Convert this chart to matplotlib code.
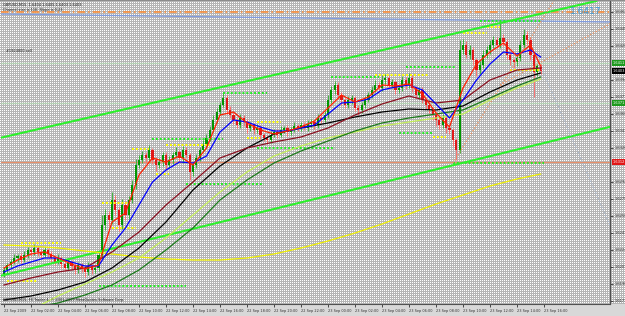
import numpy as np
import matplotlib
matplotlib.use("Agg")
import matplotlib.pyplot as plt
import matplotlib.transforms as mtransforms
from matplotlib import font_manager

# ---------------- data (GBPUSD, M15) ----------------
first_open = 1.6200
close = [
    1.6204, 1.6209, 1.6212, 1.6216,
    1.6218, 1.6214, 1.6219, 1.6224, 1.6222,
    1.6226, 1.6222, 1.6219, 1.6224, 1.6220, 1.6216,
    1.6212, 1.6216, 1.6210, 1.6206, 1.6212, 1.6208,
    1.6204, 1.6209, 1.6206, 1.6202, 1.6208, 1.6204, 1.6206,
    1.6219,
    1.6249,
    1.6259, 1.6254, 1.6274, 1.6264, 1.6249, 1.6269, 1.6259,
    1.6274, 1.6289, 1.6309, 1.6314,
    1.6319, 1.6316, 1.6324, 1.6314, 1.6309, 1.6312, 1.6319,
    1.6309, 1.6314, 1.6319, 1.6322, 1.6316, 1.6324, 1.6319,
    1.6302, 1.6309, 1.6316, 1.6324, 1.6329, 1.6336,
    1.6344, 1.6354, 1.6362, 1.6369, 1.6376, 1.6364,
    1.6359, 1.6354, 1.6349, 1.6356, 1.6352, 1.6346,
    1.6349, 1.6344, 1.6346, 1.6339, 1.6336, 1.6334, 1.6339, 1.6342,
    1.6339, 1.6344, 1.6346, 1.6342, 1.6344, 1.6348, 1.6346, 1.6349, 1.6346, 1.6350,
    1.6352, 1.6349, 1.6356, 1.6354, 1.6359,
    1.6374, 1.6384, 1.6389,
    1.6379, 1.6374, 1.6369, 1.6374, 1.6376, 1.6366, 1.6364,
    1.6369, 1.6374, 1.6379, 1.6384, 1.6389,
    1.6386, 1.6394, 1.6396, 1.6389, 1.6392, 1.6384, 1.6386,
    1.6394, 1.6389, 1.6396, 1.6386, 1.6379, 1.6384, 1.6374,
    1.6369, 1.6364, 1.6359, 1.6354,
    1.6349, 1.6356, 1.6346, 1.6344, 1.6334, 1.6324,
    1.6424,
    1.6429, 1.6419, 1.6424, 1.6414, 1.6404, 1.6409, 1.6419,
    1.6424, 1.6429, 1.6434, 1.6429, 1.6436, 1.6432,
    1.6419, 1.6414, 1.6412, 1.6416, 1.6429,
    1.6439, 1.6434, 1.6419,
    1.6402, 1.6408, 1.6403,
]
upper_wick_pips = [
    3, 2, 3, 4, 2, 3, 4, 3, 2, 4, 2, 3, 3, 2, 3, 2, 4, 2, 3, 4, 2,
    2, 3, 2, 3, 4, 2, 3, 4, 10, 6, 4, 8, 5, 3, 6, 4, 4, 5, 6, 5,
    4, 3, 5, 2, 3, 4, 3, 3, 4, 3, 5, 2, 4, 3, 2, 3, 4, 3, 5, 4,
    4, 5, 4, 3, 6, 3, 4, 3, 2, 4, 3, 3, 3, 2, 4, 3, 2, 3, 4, 3,
    3, 4, 2, 3, 3, 4, 2, 3, 3, 4, 3, 2, 4, 3, 4, 5, 4, 4,
    3, 3, 2, 4, 3, 2, 3, 3, 4, 3, 4, 5, 3, 5, 4, 3, 3, 2, 3,
    4, 3, 5, 3, 2, 3, 3, 2, 3, 2, 3, 3, 4, 2, 3, 2, 2, 10,
    6, 4, 5, 3, 2, 4, 5, 4, 5, 4, 3, 18, 4, 3, 3, 2, 4, 5, 6, 4, 3, 3, 2, 2,
]
lower_wick_pips = [
    3, 4, 3, 2, 4, 3, 2, 3, 4, 3, 4, 3, 2, 3, 4, 3, 2, 4, 3, 2, 4,
    4, 3, 4, 5, 3, 4, 3, 3, 4, 5, 6, 4, 5, 6, 4, 5, 4, 3, 4, 3,
    3, 5, 3, 4, 6, 3, 4, 5, 3, 4, 3, 4, 5, 3, 8, 4, 3, 3, 2, 3,
    3, 2, 3, 3, 2, 4, 3, 4, 3, 3, 4, 5, 3, 4, 3, 4, 3, 4, 3, 2,
    3, 2, 3, 4, 3, 2, 3, 3, 2, 3, 3, 4, 3, 3, 2, 3, 3, 4,
    4, 5, 3, 3, 4, 3, 5, 3, 3, 2, 3, 2, 3, 3, 4, 3, 3, 4, 3,
    3, 4, 3, 4, 3, 4, 3, 4, 3, 5, 6, 4, 3, 5, 4, 6, 10, 3,
    4, 3, 4, 5, 6, 4, 3, 3, 4, 3, 3, 3, 4, 4, 5, 6, 4, 3, 3, 4, 5, 25, 4, 3,
]

# moving averages (sampled at bar indices)
fast_idx = list(range(0, 160, 4)) + [159]
ma_red = [1.6206, 1.6214, 1.6220, 1.6222, 1.6216, 1.6210, 1.6205, 1.6209, 1.6252, 1.6261,
          1.6299, 1.6316, 1.6312, 1.6318, 1.6309, 1.6326, 1.6359, 1.6362, 1.6351, 1.6344,
          1.6340, 1.6343, 1.6347, 1.6353, 1.6366, 1.6379, 1.6372, 1.6377, 1.6389, 1.6388,
          1.6390, 1.6380, 1.6361, 1.6347, 1.6386, 1.6410, 1.6422, 1.6431, 1.6418, 1.6429, 1.6408]
ma_blue = [1.6202, 1.6208, 1.6212, 1.6216, 1.6216, 1.6212, 1.6208, 1.6208, 1.6229, 1.6246,
           1.6269, 1.6292, 1.6304, 1.6312, 1.6311, 1.6318, 1.6342, 1.6354, 1.6352, 1.6347,
           1.6343, 1.6343, 1.6346, 1.6349, 1.6360, 1.6371, 1.6372, 1.6375, 1.6384, 1.6387,
           1.6389, 1.6384, 1.6370, 1.6356, 1.6374, 1.6394, 1.6410, 1.6422, 1.6420, 1.6424, 1.6417]
slow_idx = list(range(0, 160, 8)) + [159]
ma_maroon = [1.6189, 1.6196, 1.6202, 1.6206, 1.6222, 1.6242, 1.6269, 1.6292, 1.6316, 1.6326,
             1.6332, 1.6337, 1.6346, 1.6359, 1.6370, 1.6378, 1.6371, 1.6374, 1.6394, 1.6404, 1.6406]
ma_black = [1.6174, 1.6178, 1.6184, 1.6192, 1.6206, 1.6226, 1.6252, 1.6284, 1.6308, 1.6326,
            1.6340, 1.6346, 1.6351, 1.6357, 1.6362, 1.6365, 1.6364, 1.6368, 1.6382, 1.6394, 1.6401]
ma_darkgreen = [1.6162, 1.6166, 1.6171, 1.6179, 1.6189, 1.6204, 1.6224, 1.6246, 1.6274, 1.6294,
                1.6311, 1.6323, 1.6333, 1.6343, 1.6351, 1.6356, 1.6360, 1.6364, 1.6376, 1.6388, 1.6397]
ma_yellowgreen = [1.6156, 1.6164, 1.6178, 1.6190, 1.6202, 1.6216, 1.6236, 1.6259, 1.6282, 1.6302,
                  1.6318, 1.6328, 1.6336, 1.6342, 1.6348, 1.6352, 1.6356, 1.6360, 1.6374, 1.6386, 1.6395]
ma_yellow = [1.6229, 1.6228, 1.6226, 1.6223, 1.6220, 1.6217, 1.6215, 1.6214, 1.6214, 1.6216,
             1.6220, 1.6226, 1.6233, 1.6241, 1.6250, 1.6260, 1.6270, 1.6279, 1.6288, 1.6295, 1.6300]

# trend / channel lines: (bar, price) anchor pairs
upper_channel = [(0, 1.6337), (160, 1.6461)]
lower_channel = [(0, 1.6199), (160, 1.6331)]
slow_blue_line = [(-2, 1.6460), (180, 1.6452)]
orange_ray_1 = [(133, 1.6311), (164, 1.6479)]
orange_ray_2 = [(147, 1.6389), (180, 1.6451)]
grey_ray = [(159, 1.6408), (180, 1.6245)]

# horizontal levels
orange_top_level = 1.6462
salmon_level = 1.6312
order_levels = [1.6411, 1.6371]

# session high / low dotted segments (start bar, end bar, price)
yellow_levels = [(1, 10, 1.6193), (5, 17, 1.6231), (29, 37, 1.6271), (32, 39, 1.6246),
                 (38, 43, 1.6325), (45, 49, 1.6300), (48, 61, 1.6329), (72, 76, 1.6336),
                 (75, 82, 1.6352), (110, 126, 1.6399), (127, 131, 1.6337), (136, 143, 1.6441),
                 (143, 147, 1.6447), (150, 159, 1.6404)]
green_levels = [(28, 54, 1.6188), (44, 65, 1.6335), (54, 77, 1.6290), (75, 98, 1.6326),
                (65, 78, 1.6381), (97, 111, 1.6397), (119, 134, 1.6407), (117, 127, 1.6341),
                (133, 160, 1.6311), (141, 159, 1.6453)]

price_ticks = [1.6462, 1.6445, 1.6428, 1.6394, 1.6377, 1.6360, 1.6343, 1.6326,
               1.6292, 1.6275, 1.6258, 1.6241, 1.6224, 1.6207, 1.6190, 1.6173]
date_ticks = list(range(0, 161, 8))
date_labels = ["22 Sep 2009", "22 Sep 02:00", "22 Sep 04:00", "22 Sep 06:00", "22 Sep 08:00",
               "22 Sep 10:00", "22 Sep 12:00", "22 Sep 14:00", "22 Sep 16:00", "22 Sep 18:00",
               "22 Sep 20:00", "22 Sep 22:00", "23 Sep 00:00", "23 Sep 02:00", "23 Sep 04:00",
               "23 Sep 06:00", "23 Sep 08:00", "23 Sep 10:00", "23 Sep 12:00", "23 Sep 14:00",
               "23 Sep 16:00"]
header_1 = "GBPUSD,M15  1.6404 1.6405 1.6403 1.6403"
header_2 = "Channel size is 116  Slope is 0.23"
order_text = "#1924800 sell"
footer = "GBPUSD,M15, FX Trader 4, \u00a9 2001-2009 MetaQuotes Software Corp."
big_label = "1.6417"

# ---------------- figure ----------------
W, H = 625, 316
avail = {f.name for f in font_manager.fontManager.ttflist}
if "Liberation Sans Narrow" in avail:
    SMALL = dict(family=["Liberation Sans Narrow", "DejaVu Sans"])
    FS = 3.5
else:
    SMALL = dict(family=["DejaVu Sans"], stretch="condensed")
    FS = 2.8
fig = plt.figure(figsize=(W / 100, H / 100), dpi=100)

# dithered grey background like the MT4 gif
bg = np.full((H, W, 3), 0.71)
bg[0::2, 0::2, :] = 1.0
bg[304:, :, :] = 0.85
bg[0, :, :] = 0.55
fig.figimage(bg, xo=0, yo=0, origin="upper", zorder=-10)

ax = fig.add_axes([1 / W, (H - 304) / H, 609 / W, 303 / H])
ax.set_zorder(1)
ax.set_facecolor("none")
ax.patch.set_alpha(0)
ax.set_xlim(-0.89, 179.56)
ax.set_ylim(1.6170, 1.6473)

# candles
close = np.array(close)
opens = np.concatenate([[first_open], close[:-1]])
highs = np.maximum(opens, close) + np.array(upper_wick_pips) * 1e-4
lows = np.minimum(opens, close) - np.array(lower_wick_pips) * 1e-4
idx = np.arange(len(close))
up = close >= opens
dn = ~up
ax.vlines(idx[up], lows[up], highs[up], color="#3cb43c", lw=0.7, zorder=3)
ax.vlines(idx[dn], lows[dn], highs[dn], color="#ff7070", lw=0.7, zorder=3)
body_h = np.maximum(np.abs(close - opens), 0.00008)
ax.bar(idx[up], body_h[up], bottom=opens[up], width=0.62, color="#009600", lw=0, zorder=4)
ax.bar(idx[dn], body_h[dn], bottom=close[dn], width=0.62, color="#e01818", lw=0, zorder=4)

# horizontal levels
ax.axhline(orange_top_level, color="#ff8a30", lw=1.1, ls=(0, (5, 2, 1, 2)), zorder=2)
ax.axhline(salmon_level, color="#e8906a", lw=0.9, zorder=2)
for lv in order_levels:
    ax.axhline(lv, color="#b4d2b4", lw=1.0, zorder=2)
ax.plot(*zip(*slow_blue_line), color="#7f9be0", lw=0.9, zorder=2)

# session dotted levels
for s, e, p in yellow_levels:
    ax.plot([s, e], [p, p], color="#ffff00", lw=1.4, ls=(0, (1, 1)), zorder=5)
for s, e, p in green_levels:
    ax.plot([s, e], [p, p], color="#22ee22", lw=1.4, ls=(0, (1, 1)), zorder=5)

# channel lines
ax.axline(*upper_channel, color="#2cf02c", lw=1.5, zorder=6)
ax.axline(*lower_channel, color="#2cf02c", lw=1.5, zorder=6)
ax.plot(*zip(*orange_ray_1), color="#f0905a", lw=0.9, ls=(0, (1, 1.5)), zorder=6)
ax.plot(*zip(*orange_ray_2), color="#f0905a", lw=0.9, ls=(0, (1, 1.5)), zorder=6)
ax.plot(*zip(*grey_ray), color="#a8b8d0", lw=0.9, ls=(0, (1, 1.5)), zorder=6)

# moving averages
ax.plot(slow_idx, ma_yellow, color="#f0f000", lw=0.9, zorder=7)
ax.plot(slow_idx, ma_yellowgreen, color="#c4f058", lw=0.9, zorder=7)
ax.plot(slow_idx, ma_darkgreen, color="#1a7a1a", lw=0.9, zorder=7)
ax.plot(slow_idx, ma_black, color="#000000", lw=0.9, zorder=7)
ax.plot(slow_idx, ma_maroon, color="#8a1020", lw=0.9, zorder=7)
ax.plot(fast_idx, ma_blue, color="#0000ff", lw=0.9, zorder=8)
ax.plot(fast_idx, ma_red, color="#ff2000", lw=0.9, zorder=8)

# axes styling
for side in ("top", "left"):
    ax.spines[side].set_visible(False)
for side in ("right", "bottom"):
    ax.spines[side].set_color("#505050")
    ax.spines[side].set_linewidth(0.8)
ax.yaxis.tick_right()
ax.set_yticks(price_ticks)
ax.set_yticklabels([f"{p:.4f}" for p in price_ticks])
ax.tick_params(axis="y", length=2, width=0.6, pad=1.0, labelsize=FS, colors="#303030")
ax.set_xticks(date_ticks)
ax.set_xticklabels(date_labels, ha="left")
ax.tick_params(axis="x", length=2, width=0.6, pad=1.5, labelsize=FS, colors="#303030")
for lab in ax.get_xticklabels() + ax.get_yticklabels():
    lab.set_fontfamily(SMALL["family"])
    if "stretch" in SMALL:
        lab.set_fontstretch(SMALL["stretch"])

# price boxes on the right axis
trans = mtransforms.blended_transform_factory(ax.transAxes, ax.transData)
for price, fc in [(order_levels[0], "#1e9a1e"), (close[-1], "#000000"),
                  (order_levels[1], "#1e9a1e"), (salmon_level, "#e01818")]:
    ax.text(1.004, price, f"{price:.4f}", transform=trans, fontsize=FS, color="white",
            va="center", ha="left", clip_on=False, zorder=10,
            bbox=dict(boxstyle="square,pad=0.2", fc=fc, ec="none"), **SMALL)

# texts
fig.text(3 / W, 1 - 4.5 / H, header_1, fontsize=FS, color="#202020", va="center", **SMALL)
fig.text(3 / W, 1 - 10.5 / H, header_2, fontsize=FS, color="#202020", va="center", **SMALL)
ax.text(0.6, 1.6421, order_text, fontsize=FS, color="#202020", va="bottom", zorder=10, **SMALL)
fig.text(3 / W, 1 - 302 / H, footer, fontsize=FS, color="#202020", va="bottom", **SMALL)
fig.text(586 / W, 1 - 12 / H, big_label, fontsize=6.5, color="#3a9ad9", ha="center", va="center")

fig.savefig("out.png", dpi=100)
